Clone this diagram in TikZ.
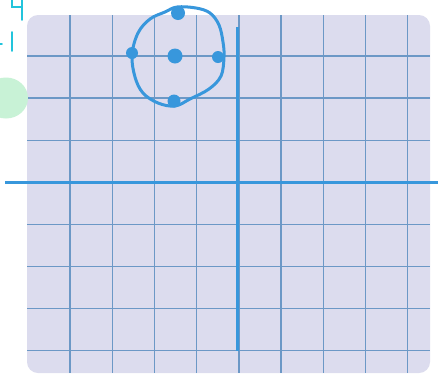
\documentclass[tikz,border=0pt]{standalone}
\begin{document}
\begin{tikzpicture}[x=1pt,y=-1pt,
  gridline/.style={draw=gridc,line width=1.4},
  axisline/.style={draw=axisc,line width=3},
  dotnode/.style={circle,fill=axisc,inner sep=0pt,minimum size=#1},
  sketch/.style={draw=axisc,line width=3,line cap=round,line join=round},
  penmark/.style={draw=markc,line width=1.6,line cap=round}]
\definecolor{bgc}{RGB}{220,220,238}
\definecolor{gridc}{RGB}{108,152,198}
\definecolor{axisc}{RGB}{56,151,220}
\definecolor{greenc}{RGB}{200,242,214}
\definecolor{markc}{RGB}{34,196,220}
\useasboundingbox (0,0) rectangle (438,373);
\fill[white] (0,0) rectangle (438,373);
% paper
\fill[bgc,rounded corners=11] (27,15) rectangle (430,373);
\begin{scope}
\clip[rounded corners=11] (27,15) rectangle (430,373);
\foreach \i in {0,...,8} {
  \draw[gridline] ({70+42.2*\i},15) -- ({70+42.2*\i},373);
}
\foreach \j in {0,...,7} {
  \draw[gridline] (27,{56+42.1*\j}) -- (430,{56+42.1*\j});
}
\end{scope}
% green blob
\fill[greenc] (6,98) ellipse [x radius=22, y radius=20.5];
% cyan marks
\draw[penmark] (12,0) -- (12,7) -- (21,7);
\draw[penmark] (22,0) -- (22,20);
\draw[penmark] (12,32) -- (12,51);
\draw[penmark] (0,44) -- (2,44);
% axes
\coordinate (xl) at (5,182);
\coordinate (xr) at (438,182);
\coordinate (yt) at (237.5,27);
\coordinate (yb) at (237.5,351);
\draw[axisline] (xl) -- (xr);
\draw[axisline] (yt) -- (yb);
% sketched circle
\draw[sketch] plot[smooth cycle,tension=0.6] coordinates {(177,7) (196,8) (210,13) (219,25) (223,42) (224,57) (221,76) (209,89) (190,99) (175,106) (158,103) (143,93) (135,77) (132,55) (138,33) (150,19) (165,12)};
\node[dotnode=14] (top) at (178,13) {};
\node[dotnode=12] (left) at (132,53) {};
\node[dotnode=15] (center) at (175,56) {};
\node[dotnode=12] (right) at (218,57) {};
\node[dotnode=13] (bottom) at (174,101) {};
\end{tikzpicture}
\end{document}
